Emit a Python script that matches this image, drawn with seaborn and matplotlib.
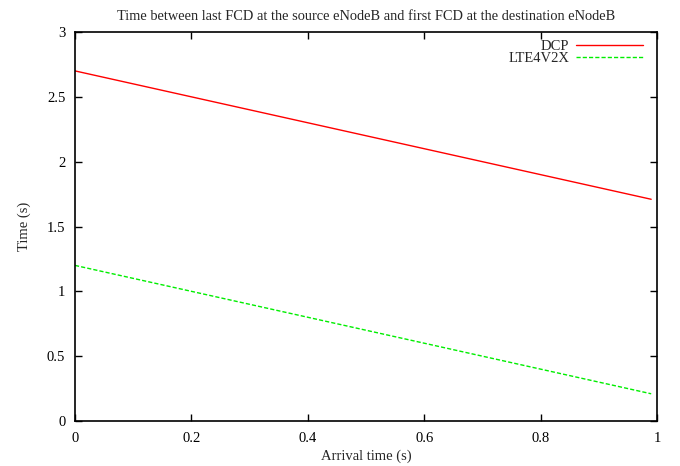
import matplotlib
matplotlib.use("Agg")
import matplotlib.pyplot as plt
import seaborn as sns
import pandas as pd

arrival = [0.0, 0.99]
dcp = [2.70, 1.71]
lte = [1.20, 0.21]
series_names = ["DCP", "LTE4V2X"]
x_ticks = [0, 0.2, 0.4, 0.6, 0.8, 1]
x_tick_labels = ["0", "0.2", "0.4", "0.6", "0.8", "1"]
y_ticks = [0, 0.5, 1, 1.5, 2, 2.5, 3]
y_tick_labels = ["0", "0.5", "1", "1.5", "2", "2.5", "3"]

sns.set_style("ticks")
plt.rcParams['font.family'] = ['Liberation Serif', 'DejaVu Serif']

df = pd.concat([
    pd.DataFrame({"x": arrival, "y": dcp, "s": series_names[0]}),
    pd.DataFrame({"x": arrival, "y": lte, "s": series_names[1]}),
])

fig = plt.figure(figsize=(6.8, 4.66), dpi=100)
ax = fig.add_axes([75/680, 45/466, 582/680, 389/466])

sns.lineplot(data=df, x="x", y="y", hue="s", style="s",
             palette={"DCP": "#ff0000", "LTE4V2X": "#00ee00"},
             dashes={"DCP": "", "LTE4V2X": (3, 1.5)},
             linewidth=1.0, ax=ax)

ax.set_xlim(0, 1)
ax.set_ylim(0, 3)
ax.set_xticks(x_ticks)
ax.set_xticklabels(x_tick_labels)
ax.set_yticks(y_ticks)
ax.set_yticklabels(y_tick_labels)
ax.tick_params(direction="in", top=True, right=True, length=5, width=1,
               labelsize=10.5, colors="black")
ax.tick_params(axis="x", pad=8)
ax.tick_params(axis="y", pad=7)
for sp in ax.spines.values():
    sp.set_visible(True)
    sp.set_linewidth(1.2)
    sp.set_color("black")

ax.set_xlabel("Arrival time (s)", fontsize=10.5, labelpad=3)
ax.set_ylabel("Time (s)", fontsize=10.5, labelpad=11)
ax.set_title("Time between last FCD at the source eNodeB and first FCD at the destination eNodeB",
             fontsize=10.4, pad=9)

handles, labels = ax.get_legend_handles_labels()
ax.legend(handles, labels, loc="upper right", frameon=False, markerfirst=False,
          fontsize=10.5, handlelength=4.6, handletextpad=0.45, labelspacing=-0.12,
          borderaxespad=0.15, bbox_to_anchor=(0.99, 1.0))

fig.savefig("out.png", dpi=100)
